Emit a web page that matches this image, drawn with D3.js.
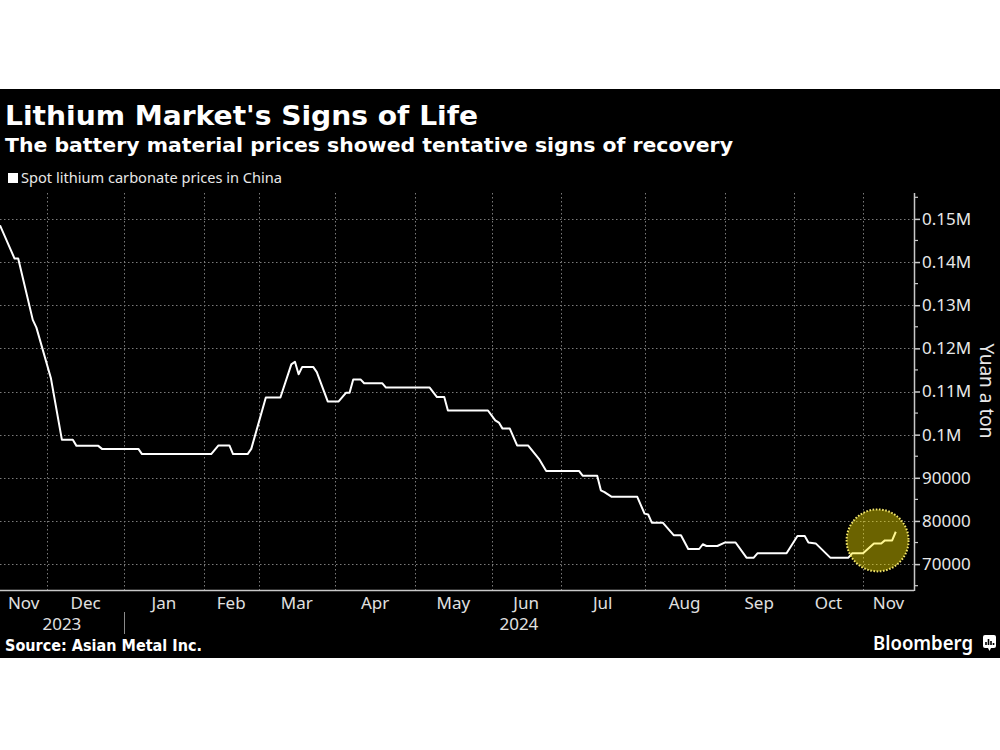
<!DOCTYPE html>
<html>
<head>
<meta charset="utf-8">
<script src="https://cdn.jsdelivr.net/npm/d3@7"></script>
<style>
  html, body { margin: 0; padding: 0; background: #ffffff; }
  svg { display: block; }
</style>
</head>
<body>
<svg id="chart" width="1000" height="750"></svg>
<script>
// ---------------- DATA ----------------
const titleText = "Lithium Market's Signs of Life";
const subtitleText = "The battery material prices showed tentative signs of recovery";
const legendText = "Spot lithium carbonate prices in China";
const sourceText = "Source: Asian Metal Inc.";
const yAxisTitle = "Yuan a ton";

// months shown on the x axis and the number of trading days in each
const monthLabels = ["Nov", "Dec", "Jan", "Feb", "Mar", "Apr", "May", "Jun", "Jul", "Aug", "Sep", "Oct", "Nov"];
const monthTradingDays = [13, 21, 22, 15, 21, 22, 21, 19, 23, 22, 19, 19, 14];
const yearLabels = ["2023", "2024"];
const yearFirstMonth = [0, 2];

// price series: trading-day index and yuan per ton at each vertex
const dayIndex = [0, 4, 5, 9, 10, 14, 17, 20, 21, 27, 28, 38, 39, 58, 60, 63, 64, 68, 69, 73,
  77, 80, 81, 82, 83, 86, 87, 90, 93, 95, 96, 97, 99, 100, 105, 106, 118, 120, 122, 123,
  134, 136, 137, 138, 140, 142, 145, 148, 150, 159, 160, 164, 165, 166, 168, 175, 177, 178, 179, 182,
  185, 187, 189, 192, 193, 194, 197, 199, 202, 205, 207, 208, 216, 219, 221, 222, 224, 228, 233, 234,
  237, 240, 242, 243, 245, 246];
const price = [148500, 140800, 140800, 126600, 124800, 113000, 98800, 98800, 97400, 97400, 96700, 96700, 95500, 95500, 97500, 97500, 95500, 95500, 96700, 108600,
  108600, 116300, 116900, 114000, 115700, 115700, 114500, 107700, 107700, 109700, 109700, 112800, 112800, 111900, 111900, 110900, 110900, 108700, 108700, 105600,
  105600, 103300, 102800, 101400, 101400, 97500, 97500, 94400, 91600, 91600, 90500, 90500, 87100, 86700, 85600, 85600, 81700, 81500, 79600, 79600,
  76700, 76700, 73500, 73500, 74600, 74200, 74200, 75000, 75000, 71500, 71500, 72500, 72500, 76500, 76500, 75000, 74800, 71500, 71500, 72500,
  72500, 74800, 74800, 75500, 75500, 77500];

// y axis
const yTicks = [70000, 80000, 90000, 100000, 110000, 120000, 130000, 140000, 150000];
const yTickLabels = ["70000", "80000", "90000", "0.1M", "0.11M", "0.12M", "0.13M", "0.14M", "0.15M"];
const yMinorTicks = [65000, 75000, 85000, 95000, 105000, 115000, 125000, 135000, 145000, 155000];
const yDomain = [64000, 156000];

// highlight of the recent recovery
const highlightDay = 241;
const highlightPrice = 75500;

// ---------------- LAYOUT ----------------
const svg = d3.select("#chart");
const plot = { left: 0, right: 914, top: 193, bottom: 590 };
const fontSans = "'Noto Sans', 'DejaVu Sans', sans-serif";
const fontBold = "'DejaVu Sans', 'Noto Sans', sans-serif";

svg.append("rect").attr("x", 0).attr("y", 89).attr("width", 1000).attr("height", 569).attr("fill", "#000");

const monthStarts = d3.cumsum([0].concat(monthTradingDays));  // cumulative boundaries
const totalDays = monthStarts[monthStarts.length - 1];

const x = d3.scaleLinear().domain([0, totalDays]).range([plot.left, plot.right]);
const y = d3.scaleLinear().domain(yDomain).range([plot.bottom, plot.top]);

// ---------------- TEXT ----------------
function fitText(sel, w) { sel.attr("textLength", w).attr("lengthAdjust", "spacingAndGlyphs"); return sel; }

fitText(svg.append("text").attr("x", 5).attr("y", 125).attr("fill", "#fff")
  .attr("font-family", fontBold).attr("font-weight", "bold").attr("font-size", 27).text(titleText), 473);
fitText(svg.append("text").attr("x", 5).attr("y", 152).attr("fill", "#fff")
  .attr("font-family", fontBold).attr("font-weight", "bold").attr("font-size", 20).text(subtitleText), 728);

svg.append("rect").attr("x", 8).attr("y", 173).attr("width", 10).attr("height", 10).attr("fill", "#fff");
fitText(svg.append("text").attr("x", 21).attr("y", 183).attr("fill", "#e8e8e8")
  .attr("font-family", fontSans).attr("font-size", 15).text(legendText), 261);

fitText(svg.append("text").attr("x", 5).attr("y", 651).attr("fill", "#fff")
  .attr("font-family", fontBold).attr("font-weight", "bold").attr("font-size", 15).text(sourceText), 197);

fitText(svg.append("text").attr("x", 873).attr("y", 650).attr("fill", "#fff")
  .attr("font-family", fontSans).attr("font-weight", "600").attr("font-size", 20).text("Bloomberg"), 100);
// small logo icon
const icon = svg.append("g").attr("transform", "translate(983,635)");
icon.append("rect").attr("x", 0).attr("y", 0).attr("width", 13).attr("height", 13).attr("rx", 2).attr("fill", "#fff");
icon.append("path").attr("d", "M5,13 L6.5,16 L8,13 Z").attr("fill", "#fff");
[[3, 7], [5.5, 4], [8, 6], [10.5, 8]].forEach(([bx, by]) => {
  icon.append("rect").attr("x", bx - 0.8).attr("y", by).attr("width", 1.6).attr("height", 10 - by).attr("fill", "#000");
});

// ---------------- GRID ----------------
const grid = svg.append("g").attr("stroke", "#7a7a7a").attr("stroke-width", 1).attr("stroke-dasharray", "1.5,2.5");
grid.selectAll("line.h").data(yTicks).join("line")
  .attr("x1", plot.left).attr("x2", plot.right)
  .attr("y1", d => Math.round(y(d)) + 0.5).attr("y2", d => Math.round(y(d)) + 0.5);
grid.selectAll("line.v").data(monthStarts.slice(1, -1)).join("line")
  .attr("x1", d => Math.round(x(d)) + 0.5).attr("x2", d => Math.round(x(d)) + 0.5)
  .attr("y1", plot.top).attr("y2", plot.bottom);

// ---------------- AXES ----------------
// x axis line
svg.append("line").attr("x1", plot.left).attr("x2", plot.right)
  .attr("y1", plot.bottom + 0.5).attr("y2", plot.bottom + 0.5).attr("stroke", "#c8c8c8").attr("stroke-width", 1.5);

// month labels centred in each month's span
const monthMid = monthLabels.map((m, i) => (monthStarts[i] + monthStarts[i + 1]) / 2);
svg.append("g").selectAll("text").data(monthLabels).join("text")
  .attr("x", (d, i) => x(monthMid[i])).attr("y", 609)
  .attr("text-anchor", "middle").attr("fill", "#e0e0e0")
  .attr("font-family", fontSans).attr("font-size", 17).text(d => d);

// year labels
const yearEnds = yearFirstMonth.slice(1).concat([monthLabels.length]);
svg.append("g").selectAll("text").data(yearLabels).join("text")
  .attr("x", (d, i) => x((monthStarts[yearFirstMonth[i]] + monthStarts[yearEnds[i]]) / 2)).attr("y", 630)
  .attr("text-anchor", "middle").attr("fill", "#e0e0e0")
  .attr("font-family", fontSans).attr("font-size", 17).text(d => d);
svg.append("g").selectAll("line").data(yearFirstMonth.slice(1)).join("line")
  .attr("x1", d => Math.round(x(monthStarts[d])) + 0.5).attr("x2", d => Math.round(x(monthStarts[d])) + 0.5)
  .attr("y1", 612).attr("y2", 634).attr("stroke", "#8a8a8a").attr("stroke-width", 1);

// y axis on right
const yAxis = d3.axisRight(y).tickValues(yTicks).tickSize(6).tickFormat((d, i) => yTickLabels[i]);
const yg = svg.append("g").attr("transform", `translate(${plot.right},0)`).call(yAxis);
yg.select(".domain").attr("stroke", "#c8c8c8").attr("stroke-width", 1.5)
  .attr("d", `M0.5,${plot.top}V${plot.bottom + 1}`);
yg.selectAll(".tick line").attr("stroke", "#c8c8c8").attr("stroke-width", 1.5);
yg.selectAll(".tick text").attr("fill", "#e8e8e8").attr("font-family", fontSans).attr("font-size", 17).attr("x", 8);
yg.selectAll("line.minor").data(yMinorTicks).join("line").attr("class", "minor")
  .attr("x1", 0).attr("x2", 4).attr("y1", d => y(d)).attr("y2", d => y(d))
  .attr("stroke", "#c8c8c8").attr("stroke-width", 1.2);

svg.append("text").attr("transform", "translate(980,391) rotate(90)")
  .attr("text-anchor", "middle").attr("fill", "#e8e8e8")
  .attr("font-family", fontSans).attr("font-size", 19).text(yAxisTitle);

// ---------------- LINE ----------------
const series = dayIndex.map((d, i) => ({ day: d, value: price[i] }));
const line = d3.line().x(d => x(d.day)).y(d => y(d.value));
svg.append("path").datum(series).attr("d", line)
  .attr("fill", "none").attr("stroke", "#ffffff").attr("stroke-width", 2)
  .attr("stroke-linejoin", "round");

// ---------------- HIGHLIGHT ----------------
svg.append("circle").attr("cx", x(highlightDay)).attr("cy", y(highlightPrice)).attr("r", 31)
  .attr("fill", "rgb(255,236,0)").attr("fill-opacity", 0.42)
  .attr("stroke", "#f3e66a").attr("stroke-width", 2).attr("stroke-dasharray", "1.6,1.6");
</script>
</body>
</html>
